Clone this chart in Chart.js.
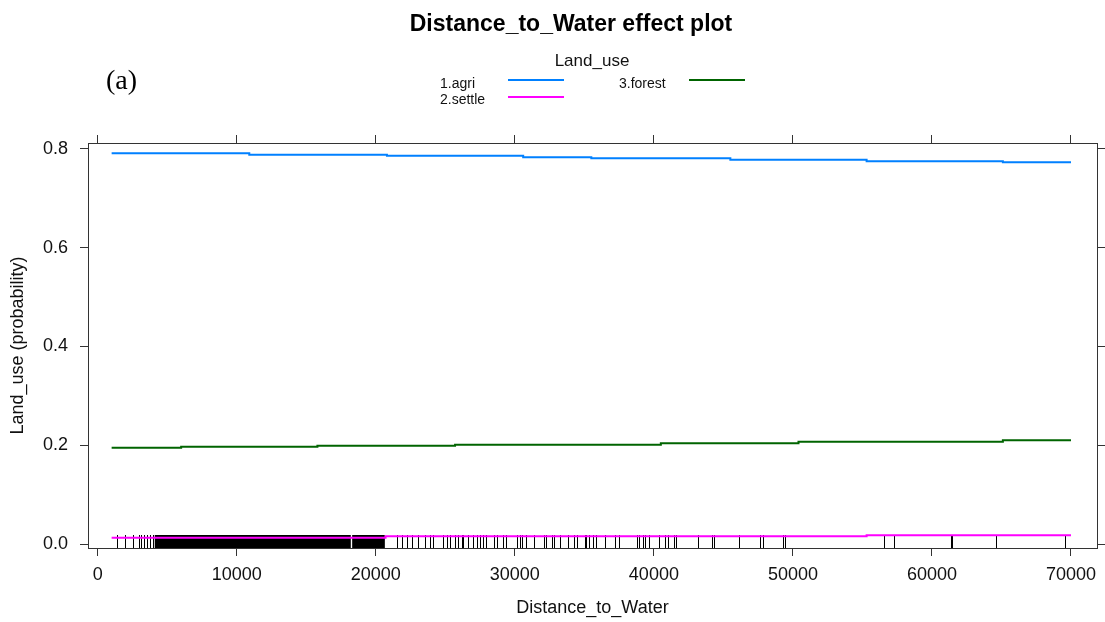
<!DOCTYPE html>
<html>
<head>
<meta charset="utf-8">
<title>Distance_to_Water effect plot</title>
<script src="https://cdn.jsdelivr.net/npm/chart.js@4/dist/chart.umd.min.js"></script>
<style>
  html, body { margin: 0; padding: 0; background: #fff; }
  #wrap { width: 1105px; height: 622px; position: relative; }
</style>
</head>
<body>
<div id="wrap"><canvas id="chart"></canvas></div>
<script>
// fitted probabilities along Distance_to_Water (levels change at the listed x)
const agriX   = [1000, 10900, 20800, 30600, 35500, 45500, 55300, 65100, 70000];
const agriY   = [0.791, 0.788, 0.786, 0.783, 0.781, 0.778, 0.775, 0.773, 0.773];
const settleX = [1000, 20700, 55300, 70000];
const settleY = [0.013, 0.016, 0.018, 0.018];
const forestX = [1000, 6000, 15800, 25700, 40500, 50400, 65100, 70000];
const forestY = [0.195, 0.197, 0.199, 0.201, 0.204, 0.207, 0.210, 0.210];

const seriesLabels = ['1.agri', '2.settle', '3.forest'];
const seriesColors = ['#0080ff', '#ff00ff', '#006400'];

// observed distances (rug); the dense stretch is kept as bands
const rugValues = [1390, 1940, 2540, 2950, 3140, 3330, 3550, 3740, 3980,
  21490, 21850, 22210, 22570, 23050, 23520, 23880, 24120, 24840, 25090, 25320,
  25680, 25920, 26170, 26290, 26650, 27000, 27250, 27520, 27720, 27960, 28520,
  28750, 29150, 29370, 30170, 30370, 30510, 30800, 31370, 32080, 32220, 32650,
  32790, 33220, 33790, 34220, 34500, 35010, 35130, 35360, 35640, 35870, 36500,
  37210, 37490, 38770, 38920, 39200, 39340, 39630, 40340, 40770, 41050, 41480,
  41620, 43190, 44190, 44330, 46130, 47610, 47830, 49320, 49460, 56580, 57290,
  61340, 61420, 64640, 69540];
const rugBands = [[4100, 18200], [18300, 20650]];

const xTicks = [0, 10000, 20000, 30000, 40000, 50000, 60000, 70000];
const yTicks = [0, 0.2, 0.4, 0.6, 0.8];

const FONT = "'Liberation Sans', Arial, sans-serif";
const frame = '#333';

const mkLine = (xs, ys, i) => ({
  label: seriesLabels[i],
  data: xs.map((x, k) => ({ x: x, y: ys[k] })),
  borderColor: seriesColors[i],
  backgroundColor: seriesColors[i],
  borderWidth: 2,
  pointRadius: 0,
  stepped: 'before',
  fill: false
});

const setX = s => { s.ticks = xTicks.map(v => ({ value: v })); };
const setY = s => { s.ticks = yTicks.map(v => ({ value: v })); };

const decor = {
  id: 'decor',
  beforeDatasetsDraw(chart) {
    const { ctx, chartArea: a, scales: { x } } = chart;
    const h = 13;
    ctx.save();
    ctx.beginPath();
    ctx.rect(a.left, a.top, a.right - a.left, a.bottom - a.top);
    ctx.clip();
    ctx.fillStyle = '#000';
    rugBands.forEach(([lo, hi]) => {
      const p0 = x.getPixelForValue(lo), p1 = x.getPixelForValue(hi);
      ctx.fillRect(p0, a.bottom - h, p1 - p0, h);
    });
    ctx.strokeStyle = '#000';
    ctx.lineWidth = 1;
    rugValues.forEach(v => {
      const px = Math.round(x.getPixelForValue(v)) + 0.5;
      ctx.beginPath();
      ctx.moveTo(px, a.bottom);
      ctx.lineTo(px, a.bottom - h);
      ctx.stroke();
    });
    ctx.restore();
  },
  afterDraw(chart) {
    const ctx = chart.ctx;
    ctx.save();
    ctx.fillStyle = '#000';
    ctx.textBaseline = 'alphabetic';

    // main title
    ctx.textAlign = 'center';
    ctx.font = 'bold 23px ' + FONT;
    ctx.fillText('Distance_to_Water effect plot', 571, 31);

    // panel tag
    ctx.textAlign = 'left';
    ctx.font = "28px 'Liberation Serif', 'Times New Roman', serif";
    ctx.fillText('(a)', 106, 89);

    // key
    ctx.textAlign = 'center';
    ctx.font = '17px ' + FONT;
    ctx.fillStyle = '#111';
    ctx.fillText('Land_use', 592, 66);

    const slots = [
      { tx: 440, ty: 88, lx: 508, ly: 80 },
      { tx: 440, ty: 104, lx: 508, ly: 97 },
      { tx: 619, ty: 88, lx: 689, ly: 80 }
    ];
    ctx.textAlign = 'left';
    ctx.font = '14px ' + FONT;
    chart.data.datasets.forEach((ds, i) => {
      const s = slots[i];
      ctx.fillStyle = '#111';
      ctx.fillText(ds.label, s.tx, s.ty);
      ctx.strokeStyle = ds.borderColor;
      ctx.lineWidth = 2;
      ctx.beginPath();
      ctx.moveTo(s.lx, s.ly);
      ctx.lineTo(s.lx + 56, s.ly);
      ctx.stroke();
    });
    ctx.restore();
  }
};

new Chart(document.getElementById('chart'), {
  type: 'line',
  data: {
    datasets: [
      mkLine(agriX, agriY, 0),
      mkLine(settleX, settleY, 1),
      mkLine(forestX, forestY, 2)
    ]
  },
  options: {
    responsive: true,
    maintainAspectRatio: false,
    animation: false,
    layout: { padding: { top: 135, left: 0, right: 0, bottom: 0 } },
    plugins: { legend: { display: false }, tooltip: { enabled: false }, title: { display: false } },
    scales: {
      x: {
        type: 'linear', position: 'bottom', bounds: 'data',
        min: -700, max: 71870,
        afterBuildTicks: setX,
        afterFit: s => { s.height = 74; },
        grid: { drawOnChartArea: false, tickLength: 8, color: frame },
        border: { color: frame, width: 1 },
        ticks: { autoSkip: false, maxRotation: 0, padding: 8, color: '#111',
                 font: { family: FONT, size: 18 }, callback: v => String(v) },
        title: { display: true, text: 'Distance_to_Water', color: '#111',
                 font: { family: FONT, size: 18 }, padding: { top: 0, bottom: 3 } }
      },
      x2: {
        type: 'linear', position: 'top', bounds: 'data',
        min: -700, max: 71870,
        afterBuildTicks: setX,
        afterFit: s => { s.height = 8; },
        grid: { drawOnChartArea: false, tickLength: 8, color: frame },
        border: { color: frame, width: 1 },
        ticks: { display: false }
      },
      y: {
        type: 'linear', position: 'left', bounds: 'data',
        min: -0.008, max: 0.812,
        afterBuildTicks: setY,
        afterFit: s => { s.width = 88; },
        grid: { drawOnChartArea: false, tickLength: 8, color: frame },
        border: { color: frame, width: 1 },
        ticks: { autoSkip: false, padding: 12, color: '#111',
                 font: { family: FONT, size: 18 }, callback: v => v.toFixed(1) },
        title: { display: true, text: 'Land_use (probability)', color: '#111',
                 font: { family: FONT, size: 18 }, padding: { top: 7, bottom: 0 } }
      },
      y2: {
        type: 'linear', position: 'right', bounds: 'data',
        min: -0.008, max: 0.812,
        afterBuildTicks: setY,
        afterFit: s => { s.width = 8; },
        grid: { drawOnChartArea: false, tickLength: 8, color: frame },
        border: { color: frame, width: 1 },
        ticks: { display: false }
      }
    }
  },
  plugins: [decor]
});
</script>
</body>
</html>
